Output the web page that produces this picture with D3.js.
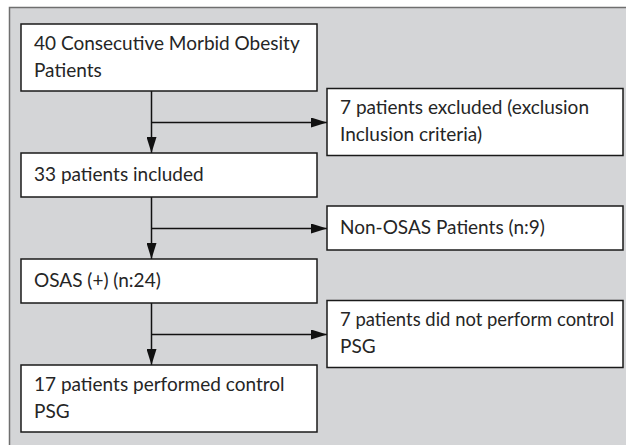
<!DOCTYPE html>
<html>
<head>
<meta charset="utf-8">
<script src="https://cdn.jsdelivr.net/npm/d3@7"></script>
<style>
  html, body { margin: 0; padding: 0; background: #ffffff; }
  svg { display: block; }
</style>
</head>
<body>
<svg id="chart"></svg>
<script>
// flow steps, top to bottom
const mainSteps = [
    ['40 Consecutive Morbid Obesity', 'Patients'],
    ['33 patients included'],
    ['OSAS (+) (n:24)'],
    ['17 patients performed control', 'PSG']
]

// side branches leaving between each pair of steps
const exclusions = [
    ['7 patients excluded (exclusion', 'Inclusion criteria)'],
    ['Non-OSAS Patients (n:9)'],
    ['7 patients did not perform control', 'PSG']
]

const width = 626, height = 445

const svg = d3.select('#chart').attr('width', width).attr('height', height)

let defs = svg.append('defs')
defs.append('marker')
    .attr('id', 'head')
    .attr('viewBox', '0 0 16 10')
    .attr('refX', 16)
    .attr('refY', 5)
    .attr('markerWidth', 16)
    .attr('markerHeight', 10)
    .attr('markerUnits', 'userSpaceOnUse')
    .attr('orient', 'auto')
    .append('path')
    .attr('d', 'M0,0 L16,5 L0,10 Z')
    .style('fill', '#111')

// grey panel behind everything (runs off the right and bottom)
svg.append('rect')
    .attr('x', 9.5).attr('y', 7.5)
    .attr('width', 700).attr('height', 500)
    .style('fill', '#d4d5d7')
    .style('stroke', '#6f6f6f')
    .style('stroke-width', 1.5)

const lineGap = 27
const boxH = n => 44 + 23 * (n - 1)
const stepGap = 62

// x positions of the two columns
const xCol = d3.scaleOrdinal().domain(['main', 'side']).range([21, 327])
const boxW = { main: 296, side: 296 }

// stack the main boxes
let y = 24
let mainBoxes = mainSteps.map((lines, i) => {
    let b = { lines: lines, col: 'main', x: xCol('main'), y: y, w: boxW.main, h: boxH(lines.length) }
    y += b.h + stepGap
    return b
})

// side boxes sit centred in the gap below each main box
let sideBoxes = exclusions.map((lines, i) => {
    let above = mainBoxes[i], below = mainBoxes[i + 1]
    let mid = (above.y + above.h + below.y) / 2
    let h = boxH(lines.length)
    return { lines: lines, col: 'side', x: xCol('side'), y: mid - h / 2, w: boxW.side, h: h, mid: mid }
})

const stemX = 151.5

// vertical connectors
svg.selectAll('line.down')
    .data(d3.pairs(mainBoxes))
    .join('line')
    .attr('class', 'down')
    .attr('x1', stemX).attr('y1', d => d[0].y + d[0].h)
    .attr('x2', stemX).attr('y2', d => d[1].y)
    .style('stroke', '#111')
    .style('stroke-width', 1.5)
    .attr('marker-end', 'url(#head)')

// horizontal branches
svg.selectAll('line.side')
    .data(sideBoxes)
    .join('line')
    .attr('class', 'side')
    .attr('x1', stemX).attr('y1', d => Math.round(d.mid) + 0.5)
    .attr('x2', d => d.x).attr('y2', d => Math.round(d.mid) + 0.5)
    .style('stroke', '#111')
    .style('stroke-width', 1.5)
    .attr('marker-end', 'url(#head)')

let boxes = svg.selectAll('g.box')
    .data(mainBoxes.concat(sideBoxes))
    .join('g')
    .attr('class', 'box')
    .attr('transform', d => `translate(${d.x},${d.y})`)

boxes.append('rect')
    .attr('width', d => d.w)
    .attr('height', d => d.h)
    .style('fill', '#ffffff')
    .style('stroke', '#1a1a1a')
    .style('stroke-width', 1.5)

boxes.append('text')
    .style('font-family', 'Lato, "Open Sans", sans-serif')
    .style('font-size', '19px')
    .style('fill', '#252525')
    .selectAll('tspan')
    .data(d => d.lines.map((t, i) => ({ t: t, i: i, n: d.lines.length, h: d.h, w: d.w })))
    .join('tspan')
    .attr('x', 13)
    .attr('y', d => d.h / 2 + 5.5 + (d.i - (d.n - 1) / 2) * lineGap)
    .text(d => d.t)
    .each(function(d) {
        // squeeze any line that would run past the box edge
        let maxW = d.w - 22
        if (this.getComputedTextLength() > maxW) {
            d3.select(this).attr('textLength', maxW).attr('lengthAdjust', 'spacingAndGlyphs')
        }
    })
</script>
</body>
</html>
